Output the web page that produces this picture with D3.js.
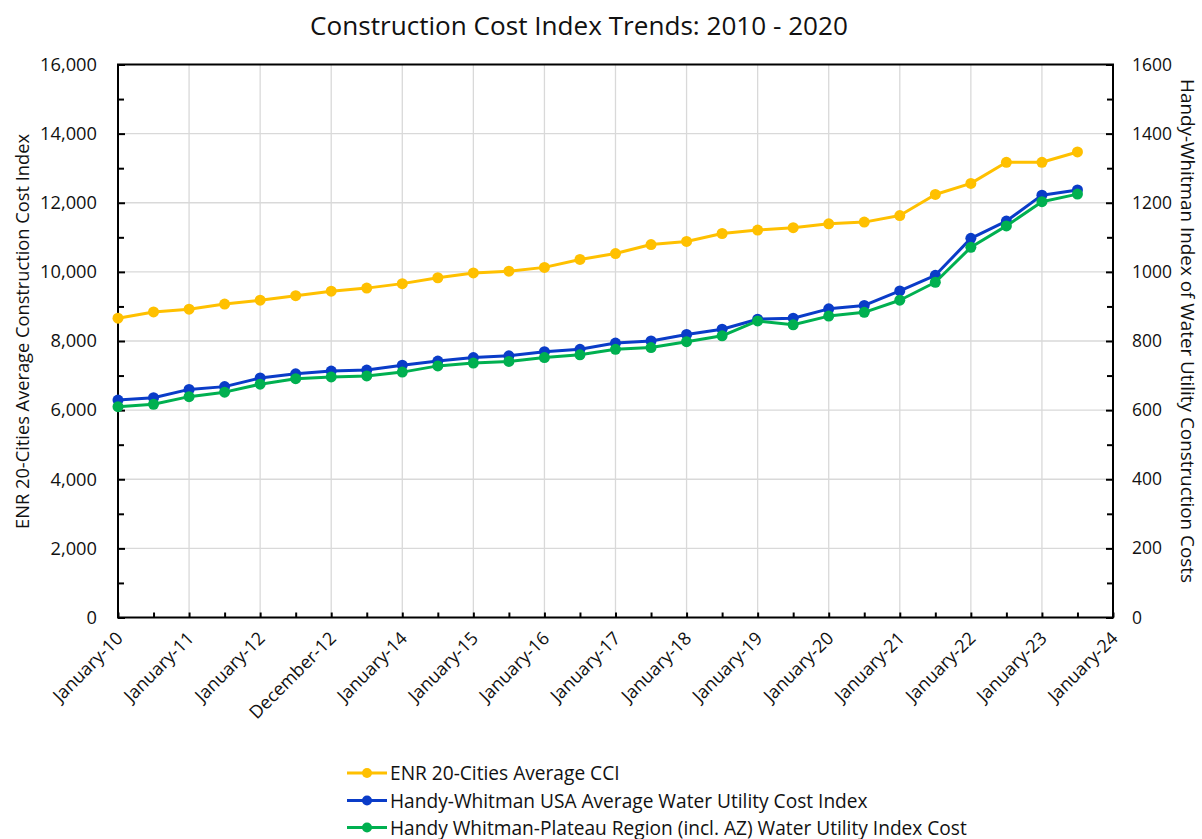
<!DOCTYPE html>
<html>
<head>
<meta charset="utf-8">
<script src="https://cdn.jsdelivr.net/npm/d3@7"></script>
<style>
  html, body { margin: 0; padding: 0; background: #fff; }
  svg { display: block; font-family: "Open Sans", "Noto Sans", sans-serif; }
</style>
</head>
<body>
<svg id="chart" width="1202" height="839"></svg>
<script>
// ---- Data ----
const tickLabels = ["January-10","January-11","January-12","December-12","January-14","January-15",
  "January-16","January-17","January-18","January-19","January-20","January-21","January-22",
  "January-23","January-24"];
const enrCCI = [8660, 8840, 8920, 9070, 9180, 9310, 9440, 9530, 9660, 9830, 9970, 10020, 10130, 10360,
  10530, 10790, 10880, 11110, 11210, 11280, 11390, 11440, 11630, 12240, 12560, 13170, 13170, 13470];
const hwUSA = [629, 636, 660, 668, 693, 705, 713, 716, 730, 742, 752, 757, 769, 776,
  794, 800, 819, 834, 863, 866, 893, 903, 945, 990, 1097, 1147, 1222, 1237];
const hwPlateau = [610, 617, 639, 652, 675, 691, 696, 699, 710, 728, 736, 741, 752, 760,
  776, 781, 798, 815, 858, 847, 872, 883, 918, 970, 1071, 1133, 1203, 1225];
const seriesNames = ["ENR 20-Cities Average CCI",
  "Handy-Whitman USA Average Water Utility Cost Index",
  "Handy Whitman-Plateau Region (incl. AZ) Water Utility Index Cost"];
const seriesColors = ["#FFC000", "#0A3CC8", "#00B050"];

// ---- Layout ----
const L = 118, R = 1113, T = 64.5, B = 617.5;
const svg = d3.select("#chart");

const nSlots = tickLabels.length * 2 - 2; // 28 half-year steps
const x = d3.scaleLinear().domain([0, nSlots]).range([L, R]);
const yL = d3.scaleLinear().domain([0, 16000]).range([B, T]);
const yR = d3.scaleLinear().domain([0, 1600]).range([B, T]);

function fit(sel, target) {
  const base = 20;
  sel.style("font-size", base + "px");
  const w = sel.node().getComputedTextLength();
  sel.style("font-size", (base * target / w) + "px");
  return sel;
}

// Gridlines
const grid = svg.append("g").attr("stroke", "#D9D9D9").attr("stroke-width", 1.3);
d3.range(2000, 16000, 2000).forEach(v => {
  grid.append("line").attr("x1", L).attr("x2", R).attr("y1", yL(v)).attr("y2", yL(v));
});
d3.range(2, nSlots, 2).forEach(i => {
  grid.append("line").attr("x1", x(i)).attr("x2", x(i)).attr("y1", T).attr("y2", B);
});

// Axes
const axColor = "#000";
const gLeft = svg.append("g").attr("transform", `translate(${L},0)`)
  .call(d3.axisLeft(yL).tickValues(d3.range(0, 16001, 2000)).tickSizeInner(-7).tickSizeOuter(0)
    .tickPadding(21).tickFormat(d3.format(",")));
const gLeftMinor = svg.append("g").attr("transform", `translate(${L},0)`)
  .call(d3.axisLeft(yL).tickValues(d3.range(1000, 16000, 2000)).tickSizeInner(-6).tickSizeOuter(0)
    .tickFormat(""));
const gRight = svg.append("g").attr("transform", `translate(${R},0)`)
  .call(d3.axisRight(yR).tickValues(d3.range(0, 1601, 200)).tickSizeInner(-7).tickSizeOuter(0)
    .tickPadding(19).tickFormat(d3.format("d")));
const gRightMinor = svg.append("g").attr("transform", `translate(${R},0)`)
  .call(d3.axisRight(yR).tickValues(d3.range(100, 1600, 200)).tickSizeInner(-6).tickSizeOuter(0)
    .tickFormat(""));
const gBottom = svg.append("g").attr("transform", `translate(0,${B})`)
  .call(d3.axisBottom(x).tickValues(d3.range(0, nSlots + 1, 1)).tickSizeInner(-5).tickSizeOuter(0)
    .tickFormat(""));

[gLeft, gLeftMinor, gRight, gRightMinor, gBottom].forEach(g => {
  g.selectAll(".domain").remove();
  g.selectAll(".tick line").attr("stroke", axColor).attr("stroke-width", 2);
  g.selectAll("text").attr("fill", "#111").style("font-family", "\"Open Sans\", sans-serif");
});
gLeft.selectAll("text").each(function() {});
// fit tick label sizes
(function() {
  const t = gLeft.selectAll(".tick text").filter(d => d === 16000);
  fit(t, 57);
  const fs = t.style("font-size");
  gLeft.selectAll(".tick text").style("font-size", fs);
  const t2 = gRight.selectAll(".tick text").filter(d => d === 1600);
  fit(t2, 40);
  gRight.selectAll(".tick text").style("font-size", t2.style("font-size"));
})();

// Plot frame
svg.append("rect").attr("x", L).attr("y", T).attr("width", R - L).attr("height", B - T)
  .attr("fill", "none").attr("stroke", "#000").attr("stroke-width", 2);

// X labels
const xl = svg.append("g");
tickLabels.forEach((lab, k) => {
  const px = x(k * 2) + 6, py = B + 22;
  xl.append("text").attr("transform", `translate(${px},${py}) rotate(-45)`)
    .attr("text-anchor", "end").attr("fill", "#111").text(lab);
});
(function() {
  const t = xl.selectAll("text").filter((d, i) => i === 0);
  fit(t, 90);
  xl.selectAll("text").style("font-size", t.style("font-size"));
})();

// Series
const seriesData = [enrCCI, hwUSA, hwPlateau];
const scales = [yL, yR, yR];
seriesData.forEach((vals, s) => {
  const ys = scales[s];
  const line = d3.line().x((d, i) => x(i)).y(d => ys(d));
  const g = svg.append("g");
  g.append("path").datum(vals).attr("d", line).attr("fill", "none")
    .attr("stroke", seriesColors[s]).attr("stroke-width", 3).attr("stroke-linejoin", "round");
  g.selectAll("circle").data(vals).join("circle")
    .attr("cx", (d, i) => x(i)).attr("cy", d => ys(d)).attr("r", 5.5)
    .attr("fill", seriesColors[s]);
});

// Title
const title = svg.append("text").attr("x", 579).attr("y", 35).attr("text-anchor", "middle")
  .attr("fill", "#111").text("Construction Cost Index Trends: 2010 - 2020");
fit(title, 538);

// Axis titles
const lt = svg.append("text").attr("transform", `translate(21,${331.5}) rotate(-90)`)
  .attr("text-anchor", "middle").attr("dominant-baseline", "central").attr("fill", "#111")
  .text("ENR 20-Cities Average Construction Cost Index");
fit(lt, 395);
const rt = svg.append("text").attr("transform", `translate(1188,${331}) rotate(90)`)
  .attr("text-anchor", "middle").attr("dominant-baseline", "central").attr("fill", "#111")
  .text("Handy-Whitman Index of Water Utility Construction Costs");
fit(rt, 504);

// Legend
const legY = [773, 800.5, 827.5];
const lg = svg.append("g");
seriesNames.forEach((name, s) => {
  const yy = legY[s];
  lg.append("line").attr("x1", 347).attr("x2", 387).attr("y1", yy).attr("y2", yy)
    .attr("stroke", seriesColors[s]).attr("stroke-width", 3);
  lg.append("circle").attr("cx", 367).attr("cy", yy).attr("r", 5).attr("fill", seriesColors[s]);
  lg.append("text").attr("x", 390).attr("y", yy).attr("dominant-baseline", "central")
    .attr("fill", "#111").text(name);
});
(function() {
  const t = lg.selectAll("text").filter((d, i) => i === 2);
  fit(t, 577);
  lg.selectAll("text").style("font-size", t.style("font-size"));
})();
</script>
</body>
</html>
